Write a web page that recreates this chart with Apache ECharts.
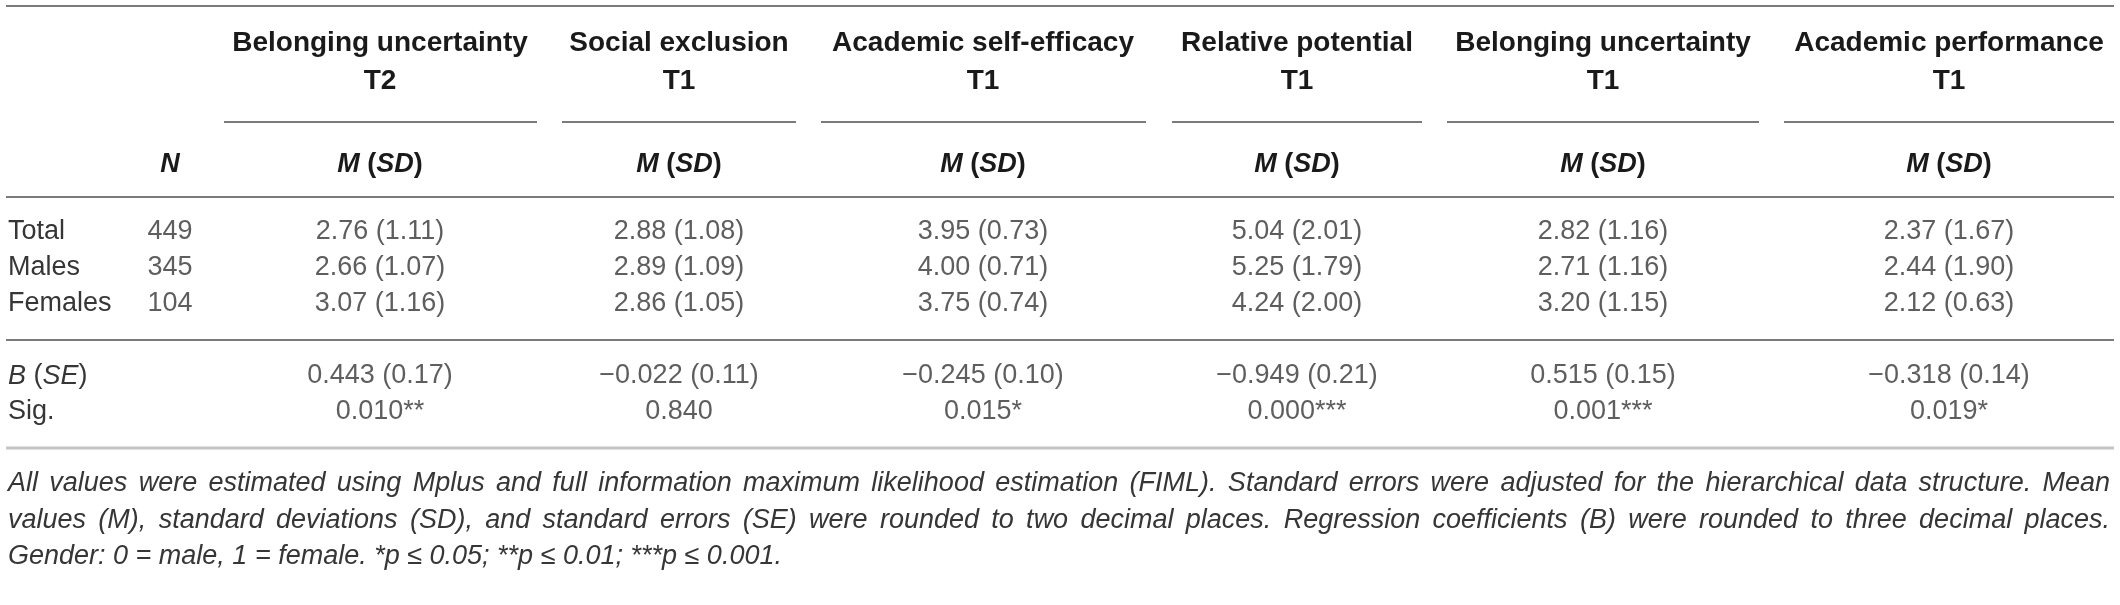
<!DOCTYPE html>
<html>
<head>
<meta charset="utf-8">
<script src="https://cdn.jsdelivr.net/npm/echarts@6/dist/echarts.min.js"></script>
<style>
html,body{margin:0;padding:0;background:#fff;}
#main{width:2120px;height:605px;}
</style>
</head>
<body>
<div id="main"></div>
<script>
// ---- table data ----
var measures = ['Belonging uncertainty', 'Social exclusion', 'Academic self-efficacy', 'Relative potential', 'Belonging uncertainty', 'Academic performance'];
var waves = ['T2', 'T1', 'T1', 'T1', 'T1', 'T1'];
var groups = ['Total', 'Males', 'Females'];
var groupN = [449, 345, 104];
var meanTotal = [2.76, 2.88, 3.95, 5.04, 2.82, 2.37];
var sdTotal = [1.11, 1.08, 0.73, 2.01, 1.16, 1.67];
var meanMales = [2.66, 2.89, 4.00, 5.25, 2.71, 2.44];
var sdMales = [1.07, 1.09, 0.71, 1.79, 1.16, 1.90];
var meanFemales = [3.07, 2.86, 3.75, 4.24, 3.20, 2.12];
var sdFemales = [1.16, 1.05, 0.74, 2.00, 1.15, 0.63];
var coefB = [0.443, -0.022, -0.245, -0.949, 0.515, -0.318];
var coefSE = [0.17, 0.11, 0.10, 0.21, 0.15, 0.14];
var sigP = [0.010, 0.840, 0.015, 0.000, 0.001, 0.019];
var sigStars = ['**', '', '*', '***', '***', '*'];
var rowNames = ['Total', 'Males', 'Females', ' ', 'B (SE)', 'Sig.'];
var notes = [
  'All values were estimated using Mplus and full information maximum likelihood estimation (FIML). Standard errors were adjusted for the hierarchical data structure. Mean',
  'values (M), standard deviations (SD), and standard errors (SE) were rounded to two decimal places. Regression coefficients (B) were rounded to three decimal places.',
  'Gender: 0 = male, 1 = female. *p \u2264 0.05; **p \u2264 0.01; ***p \u2264 0.001.'
];

// ---- layout ----
var FONT = '"Liberation Sans", Arial, Helvetica, sans-serif';
var W = 2120;
var colX = [380, 679, 983, 1297, 1603, 1949];
var colSpan = [[224, 537], [562, 796], [821, 1146], [1172, 1422], [1447, 1759], [1784, 2114]];
var nX = 170;
var ruleColor = '#7a7a7a';
var bodyColor = '#363636';

function num(v, d) {
  return v.toFixed(d).replace('-', '\u2212');
}

// body cells
var cells = [];
var meanRows = [meanTotal, meanMales, meanFemales];
var sdRows = [sdTotal, sdMales, sdFemales];
for (var r = 0; r < groups.length; r++) {
  cells.push([nX, groups[r], String(groupN[r])]);
  for (var c = 0; c < measures.length; c++) {
    cells.push([colX[c], groups[r], num(meanRows[r][c], 2) + ' (' + num(sdRows[r][c], 2) + ')']);
  }
}
for (var c = 0; c < measures.length; c++) {
  cells.push([colX[c], 'B (SE)', num(coefB[c], 3) + ' (' + num(coefSE[c], 2) + ')']);
  cells.push([colX[c], 'Sig.', num(sigP[c], 3) + sigStars[c]]);
}

// graphic: rules, headers, notes
var g = [];
function hline(x1, x2, y, color, w) {
  g.push({type: 'line', shape: {x1: x1, y1: y, x2: x2, y2: y}, style: {stroke: color, lineWidth: w}, silent: true});
}
function txt(x, y, text, font, color, align) {
  g.push({type: 'text', x: x, y: y, silent: true,
    style: {text: text, font: font, fill: color, textAlign: align || 'center', textVerticalAlign: 'middle'}});
}
hline(6, 2114, 6, ruleColor, 2);
hline(6, 2114, 197, ruleColor, 2);
hline(6, 2114, 340, ruleColor, 2);
hline(6, 2114, 448, '#c4c4c4', 3);
for (var c = 0; c < measures.length; c++) {
  hline(colSpan[c][0], colSpan[c][1], 122, ruleColor, 2);
  txt(colX[c], 43, measures[c], 'bold 28px ' + FONT, '#1a1a1a');
  txt(colX[c], 81, waves[c], 'bold 28px ' + FONT, '#1a1a1a');
  g.push({type: 'text', x: colX[c], y: 165, silent: true,
    style: {text: '{i|M}{b|\u00a0(}{i|SD}{b|)}', textAlign: 'center', textVerticalAlign: 'middle',
      rich: {
        i: {font: 'italic bold 27px ' + FONT, fill: '#1a1a1a'},
        b: {font: 'bold 27px ' + FONT, fill: '#1a1a1a'}
      }}});
}
txt(nX, 165, 'N', 'italic bold 27px ' + FONT, '#1a1a1a');

var noteFont = 'italic 27px ' + FONT;
var ctx = document.createElement('canvas').getContext('2d');
ctx.font = noteFont;
function noteLine(text, y, justify) {
  if (!justify) { txt(8, y, text, noteFont, bodyColor, 'left'); return; }
  var words = text.split(' ');
  var widths = words.map(function (w) { return ctx.measureText(w).width; });
  var total = widths.reduce(function (a, b) { return a + b; }, 0);
  var gap = (2110 - 8 - total) / (words.length - 1);
  var x = 8;
  for (var i = 0; i < words.length; i++) {
    txt(x, y, words[i], noteFont, bodyColor, 'left');
    x += widths[i] + gap;
  }
}
noteLine(notes[0], 483, true);
noteLine(notes[1], 520, true);
noteLine(notes[2], 556, false);

var chart = echarts.init(document.getElementById('main'));
chart.setOption({
  animation: false,
  backgroundColor: '#fff',
  grid: {left: 0, right: 0, top: 214, height: 216},
  xAxis: {type: 'value', min: 0, max: W, show: false},
  yAxis: {
    type: 'category', inverse: true, data: rowNames,
    axisLine: {show: false}, axisTick: {show: false}, splitLine: {show: false},
    axisLabel: {
      inside: true, margin: 8, fontSize: 27, fontFamily: FONT, color: bodyColor,
      formatter: function (v) { return v === 'B (SE)' ? '{i|B}\u00a0({i|SE})' : v; },
      rich: {i: {fontStyle: 'italic', fontSize: 27, fontFamily: FONT, color: bodyColor}}
    }
  },
  series: [{
    type: 'scatter', symbolSize: 0, data: cells,
    label: {
      show: true, position: 'inside', fontSize: 27, fontFamily: FONT, color: bodyColor,
      formatter: function (p) { return p.value[2]; }
    }
  }],
  graphic: g
});
</script>
</body>
</html>
